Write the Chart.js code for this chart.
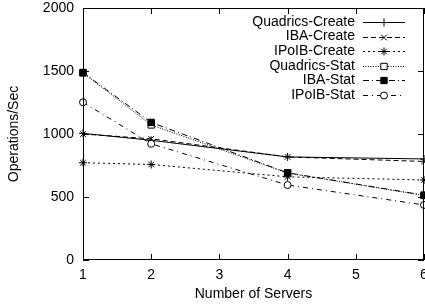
<!DOCTYPE html>
<html>
<head>
<meta charset="utf-8">
<script src="https://cdn.jsdelivr.net/npm/chart.js@4"></script>
<style>
html, body { margin: 0; padding: 0; background: #fff; }
#wrap { width: 425px; height: 307px; }
</style>
</head>
<body>
<div id="wrap"><canvas id="chart" width="425" height="307"></canvas></div>
<script>
// values
var servers = [1, 2, 4, 6];
var quadricsCreate = [1005, 950, 818, 802];
var ibaCreate = [1000, 962, 818, 782];
var ipoibCreate = [772, 758, 660, 635];
var quadricsStat = [1485, 1072, 690, 512];
var ibaStat = [1488, 1092, 692, 515];
var ipoibStat = [1252, 922, 595, 437];
var xTicks = [1, 2, 3, 4, 5, 6];
var yTicks = [0, 500, 1000, 1500, 2000];

var font = { family: "'Liberation Sans', Arial, sans-serif", size: 14 };

function pts(vals) {
	return servers.map(function (s, i) { return { x: s, y: vals[i] }; });
}

function series(label, vals, dash, style, radius, fill, idx) {
	return {
		label: label,
		data: pts(vals),
		borderColor: '#000',
		borderWidth: 1,
		borderDash: dash,
		pointStyle: style,
		pointRadius: radius,
		pointBorderColor: '#000',
		pointBorderWidth: 1,
		pointBackgroundColor: fill,
		fill: false,
		clip: false,
		tension: 0,
		order: 6 - idx
	};
}

var datasets = [
	series('Quadrics-Create', quadricsCreate, [], 'cross', 4, '#000', 0),
	series('IBA-Create', ibaCreate, [5, 3], 'crossRot', 4, '#000', 1),
	series('IPoIB-Create', ipoibCreate, [2, 3], 'star', 4, '#000', 2),
	series('Quadrics-Stat', quadricsStat, [1, 1.5], 'rect', 4.5, '#fff', 3),
	series('IBA-Stat', ibaStat, [6, 3, 1, 3], 'rect', 4.5, '#000', 4),
	series('IPoIB-Stat', ipoibStat, [5, 4, 1, 4], 'circle', 3.5, '#fff', 5)
];

// gnuplot style frame: box, inward ticks on all four sides, x tick labels
// (x labels drawn here so the last one can run off the canvas like the original)
var framePlugin = {
	id: 'frame',
	afterDraw: function (chart) {
		var ctx = chart.ctx, a = chart.chartArea;
		var xs = chart.scales.x, ys = chart.scales.y;
		ctx.save();
		ctx.strokeStyle = '#000';
		ctx.lineWidth = 1;
		ctx.setLineDash([]);
		ctx.strokeRect(a.left + 0.5, a.top + 0.5, a.right - a.left - 1, a.bottom - a.top - 1);
		ctx.beginPath();
		xTicks.forEach(function (t) {
			var px = Math.round(xs.getPixelForValue(t)) + 0.5;
			ctx.moveTo(px, a.bottom); ctx.lineTo(px, a.bottom - 6);
			ctx.moveTo(px, a.top); ctx.lineTo(px, a.top + 6);
		});
		yTicks.forEach(function (t) {
			var py = Math.round(ys.getPixelForValue(t)) + 0.5;
			ctx.moveTo(a.left, py); ctx.lineTo(a.left + 6, py);
			ctx.moveTo(a.right, py); ctx.lineTo(a.right - 6, py);
		});
		ctx.stroke();
		ctx.font = font.size + 'px ' + font.family;
		ctx.fillStyle = '#000';
		ctx.textAlign = 'center';
		ctx.textBaseline = 'middle';
		xTicks.forEach(function (t) {
			ctx.fillText(String(t), xs.getPixelForValue(t), a.bottom + 15);
		});
		ctx.restore();
	}
};

// legend as gnuplot draws it: label right aligned, then sample line with marker
var keyPlugin = {
	id: 'key',
	afterDraw: function (chart) {
		var ctx = chart.ctx;
		ctx.save();
		ctx.font = font.size + 'px ' + font.family;
		ctx.fillStyle = '#000';
		ctx.textAlign = 'right';
		ctx.textBaseline = 'middle';
		chart.data.datasets.forEach(function (ds, i) {
			var y = 22 + i * 14.6;
			ctx.fillText(ds.label, 355, y);
			ctx.strokeStyle = '#000';
			ctx.lineWidth = 1;
			ctx.setLineDash(ds.borderDash);
			ctx.beginPath();
			ctx.moveTo(363, Math.round(y) + 0.5);
			ctx.lineTo(405, Math.round(y) + 0.5);
			ctx.stroke();
			ctx.setLineDash([]);
			ctx.fillStyle = ds.pointBackgroundColor;
			Chart.helpers.drawPoint(ctx, {
				pointStyle: ds.pointStyle,
				radius: ds.pointRadius,
				rotation: 0,
				borderWidth: 1
			}, 384, Math.round(y) + 0.5);
			ctx.fillStyle = '#000';
		});
		ctx.restore();
	}
};

new Chart(document.getElementById('chart'), {
	type: 'line',
	data: { datasets: datasets },
	options: {
		responsive: false,
		animation: false,
		layout: { autoPadding: false, padding: { top: 8, right: 1, left: 0, bottom: 0 } },
		plugins: { legend: { display: false }, tooltip: { enabled: false } },
		scales: {
			x: {
				type: 'linear',
				min: 1, max: 6,
				afterBuildTicks: function (s) { s.ticks = xTicks.map(function (v) { return { value: v }; }); },
				afterFit: function (s) { s.height = 47; s.paddingLeft = 0; s.paddingRight = 0; },
				grid: { display: false, drawTicks: false },
				border: { display: false },
				ticks: { display: false },
				title: { display: true, text: 'Number of Servers', color: '#000', font: font, padding: { top: 2, bottom: 4 } }
			},
			y: {
				min: 0, max: 2000,
				afterBuildTicks: function (s) { s.ticks = yTicks.map(function (v) { return { value: v }; }); },
				afterFit: function (s) { s.width = 83; s.paddingTop = 0; s.paddingBottom = 0; },
				grid: { display: false, drawTicks: false },
				border: { display: false },
				ticks: { color: '#000', font: font, padding: 9, callback: function (v) { return String(v); } },
				title: { display: true, text: 'Operations/Sec', color: '#000', font: font, padding: { top: 6, bottom: 2 } }
			}
		}
	},
	plugins: [framePlugin, keyPlugin]
});
</script>
</body>
</html>
